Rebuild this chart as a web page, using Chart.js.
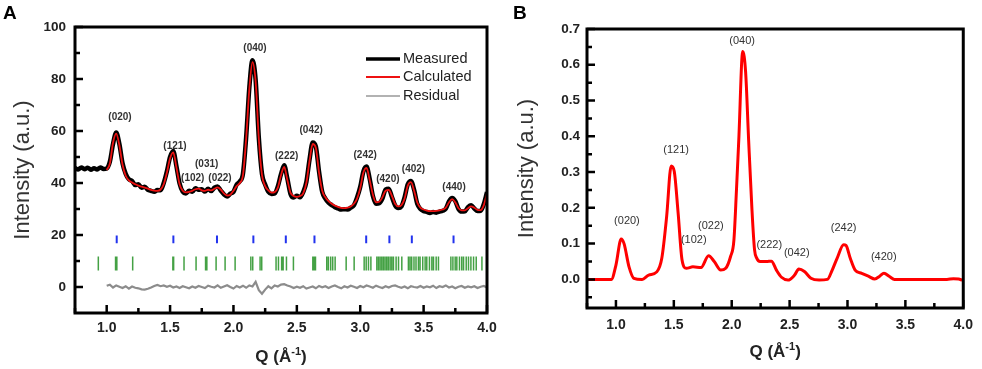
<!DOCTYPE html>
<html>
<head>
<meta charset="utf-8">
<script src="https://cdn.jsdelivr.net/npm/chart.js@4.4.1/dist/chart.umd.min.js"></script>
<style>
  html, body { margin: 0; padding: 0; background: #fff; }
  #wrap { position: relative; width: 982px; height: 369px; overflow: hidden; }
  canvas { position: absolute; top: 0; }
  #chartA { left: 0; }
  #chartB { left: 491px; }
</style>
</head>
<body>
<div id="wrap">
  <canvas id="chartA" width="520" height="369"></canvas>
  <canvas id="chartB" width="491" height="369"></canvas>
</div>
<script>
// ---- Panel A data (Q step 0.025) ----
const measuredStart = 0.75;
const measured = [
  45.8, 45.2, 46.0, 45.3, 45.9, 45.1, 45.7, 45.2, 46.0, 45.4,
  45.6, 48.2, 55.0, 59.4, 55.0, 47.6, 43.5, 41.4, 40.8, 39.2,
  39.5, 38.2, 38.6, 37.4, 37.0, 36.6, 37.3, 37.2, 40.0, 44.5,
  50.0, 52.3, 46.5, 39.8, 36.6, 36.0, 37.0, 36.6, 38.0, 37.4,
  37.6, 36.7, 37.8, 36.9, 38.2, 38.7, 37.1, 35.6, 34.8, 35.9,
  36.6, 39.4, 40.6, 43.6, 57.5, 76.6, 87.2, 79.6, 57.4, 43.5,
  39.4, 36.6, 35.8, 36.0, 38.7, 43.4, 46.8, 41.7, 35.8, 34.4,
  35.1, 34.5, 36.5, 40.4, 49.0, 55.6, 54.0, 44.4, 36.6, 34.0,
  32.4, 31.5, 30.7, 30.2, 29.8, 29.9, 29.8, 30.5, 31.4, 34.4,
  38.5, 44.5, 46.3, 41.5, 35.0, 32.0, 32.2, 34.0, 37.5, 37.8,
  34.6, 31.4, 30.4, 31.0, 34.5, 39.5, 40.8, 37.4, 32.0, 30.0,
  29.2, 28.9, 28.5, 28.8, 28.6, 29.0, 29.3, 30.1, 32.9, 34.2,
  33.0, 30.0, 29.0, 29.1, 30.7, 31.4, 30.2, 29.2, 29.3, 31.9,
  36.5
];
const calcStart = 1.0;
const calculated = [
  45.0, 47.5, 55.5, 59.0, 54.5, 47.0, 42.8, 41.0, 40.2, 39.5,
  39.0, 38.6, 38.2, 37.8, 37.4, 37.1, 37.0, 37.5, 39.5, 44.0,
  49.5, 51.8, 46.0, 39.5, 37.0, 36.4, 36.6, 37.0, 37.6, 37.8,
  37.2, 37.0, 37.4, 37.2, 37.8, 38.3, 37.5, 36.0, 35.2, 35.5,
  37.0, 38.8, 40.0, 43.0, 57.0, 76.0, 86.5, 79.0, 57.0, 43.0,
  38.8, 37.2, 36.3, 36.5, 38.2, 43.0, 46.2, 41.2, 36.3, 35.0,
  34.7, 35.0, 36.0, 40.0, 48.5, 55.0, 53.5, 44.0, 37.0, 34.5,
  33.0, 32.0, 31.3, 30.8, 30.4, 30.3, 30.5, 31.0, 32.0, 34.0,
  38.0, 44.0, 45.8, 41.0, 35.5, 32.6, 32.8, 34.5, 37.0, 37.3,
  35.0, 32.0, 31.0, 31.5, 34.0, 39.0, 40.3, 37.0, 32.5, 30.5,
  29.8, 29.4, 29.2, 29.2, 29.3, 29.5, 29.8, 30.5, 32.5, 33.8,
  32.5, 30.3, 29.5, 29.5, 30.3, 31.0, 30.5, 29.7, 29.6, 31.5,
  36.0
];
const residual = [
  0.5, 0.9, -0.2, 0.6, 0.1, -0.4, 0.3, -0.6, 0.2, -0.3,
  -0.5, -0.9, -1.0, -0.7, -0.2, 0.4, 0.8, 0.3, 0.6, 0.1,
  0.5, -0.2, 0.2, -0.4, 0.3, -0.1, -0.5, 0.2, -0.3, 0.4,
  0.0, -0.4, 0.5, 0.1, -0.2, 0.6, -0.3, 0.2, 0.7, 0.0,
  -0.6, 0.4, -0.2, 0.5, -0.3, 0.6, 0.2, 2.0, -1.2, -2.6,
  -1.0, 0.3, -0.5, 0.6, 0.2, 0.9, 1.1, 0.6, 0.2, -0.4,
  0.1, -0.3, 0.3, -0.6, -0.2, 0.2, -0.5, 0.4, -0.1, 0.3,
  -0.4, 0.2, 0.6, 0.0, -0.5, 0.3, -0.2, 0.5, 0.1, -0.4,
  0.4, -0.1, 0.6, 0.2, -0.3, 0.5, 0.0, -0.4, 0.3, -0.2,
  0.4, 0.6, 0.1, -0.3, 0.2, -0.5, 0.3, 0.0, -0.2, 0.4,
  -0.3, 0.2, -0.1, 0.5, -0.4, 0.3, 0.0, 0.6, -0.2, 0.2,
  -0.5, 0.1, 0.4, -0.3, 0.2, -0.1, 0.3, -0.4, 0.1, 0.4,
  -0.2
];
// reflection markers
const blueTicks = [1.079, 1.526, 1.87, 2.157, 2.413, 2.639, 3.047, 3.23, 3.407, 3.736];
const greenTicks = [0.934, 1.07, 1.08, 1.205, 1.522, 1.528, 1.61, 1.705, 1.78, 1.79, 1.863, 1.934,
  2.013, 2.137, 2.152, 2.21, 2.223, 2.336, 2.355, 2.38, 2.392, 2.418, 2.473, 2.626, 2.636, 2.647,
  2.736, 2.749, 2.767, 2.783, 2.802, 2.889, 2.952, 3.031, 3.047, 3.065, 3.084, 3.131, 3.144, 3.157,
  3.170, 3.183, 3.196, 3.209, 3.222, 3.236, 3.249, 3.262, 3.283, 3.302, 3.328, 3.38, 3.393, 3.406,
  3.424, 3.44, 3.459, 3.472, 3.493, 3.512, 3.525, 3.546, 3.565, 3.578, 3.599, 3.617, 3.715, 3.731,
  3.749, 3.762, 3.783, 3.801, 3.815, 3.836, 3.854, 3.873, 3.894, 3.915, 3.96];
const peakNamesA = ['(020)', '(121)', '(102)', '(031)', '(022)', '(040)', '(222)', '(042)', '(242)', '(420)', '(402)', '(440)'];
const peakQA = [1.105, 1.539, 1.679, 1.789, 1.894, 2.17, 2.42, 2.613, 3.039, 3.218, 3.42, 3.74];
const peakYA = [65.3, 54.3, 41.8, 47.3, 41.8, 91.8, 50.4, 60.1, 50.8, 41.5, 45.2, 38.2];
const yTicksA = [0, 20, 40, 60, 80, 100];

// ---- Panel B data ----
const qB = [0.75, 0.96, 1.0, 1.045, 1.07, 1.113, 1.155, 1.226, 1.283, 1.353, 1.396, 1.438, 1.477,
  1.503, 1.537, 1.571, 1.608, 1.665, 1.735, 1.80, 1.849, 1.905, 1.948, 1.99, 2.019, 2.041, 2.061,
  2.095, 2.12, 2.146, 2.174, 2.197, 2.215, 2.245, 2.30, 2.343, 2.386, 2.43, 2.486, 2.543, 2.58,
  2.628, 2.684, 2.755, 2.826, 2.868, 2.91, 2.967, 2.987, 3.024, 3.066, 3.123, 3.18, 3.236, 3.278,
  3.315, 3.363, 3.406, 3.859, 3.915, 3.96, 3.99];
const intB = [0, 0, 0.04, 0.113, 0.10, 0.035, 0.003, 0, 0.012, 0.021, 0.059, 0.176, 0.317,
  0.303, 0.186, 0.054, 0.031, 0.035, 0.033, 0.066, 0.05, 0.026, 0.031, 0.064, 0.11, 0.25, 0.39,
  0.637, 0.58, 0.39, 0.20, 0.083, 0.06, 0.05, 0.05, 0.051, 0.026, 0.006, -0.002, 0.012, 0.029,
  0.022, 0.003, -0.002, 0, 0.026, 0.059, 0.097, 0.095, 0.059, 0.026, 0.017, 0.009, 0.001, 0.009,
  0.017, 0.008, 0, 0, 0.002, 0.001, -0.002];
const peakNamesB = ['(020)', '(121)', '(102)', '(022)', '(040)', '(222)', '(042)', '(242)', '(420)'];
const peakQB = [1.095, 1.52, 1.672, 1.82, 2.09, 2.324, 2.562, 2.967, 3.313];
const peakYB = [0.162, 0.362, 0.109, 0.149, 0.667, 0.095, 0.075, 0.144, 0.062];
const yTicksB = [0, 0.1, 0.2, 0.3, 0.4, 0.5, 0.6, 0.7];

const xTicks = [1.0, 1.5, 2.0, 2.5, 3.0, 3.5, 4.0];
const xMinor = [0.75, 1.25, 1.75, 2.25, 2.75, 3.25, 3.75];

const FONT = '"Liberation Sans", Arial, sans-serif';

function series(start, vals) {
  return vals.map((v, i) => ({ x: start + i * 0.025, y: v }));
}
function tickSegments(qs, lo, hi) {
  const pts = [];
  qs.forEach(q => { pts.push({ x: q, y: lo }, { x: q, y: hi }, { x: q, y: null }); });
  return pts;
}

// frame, inward ticks, axis titles, peak labels
function decorPlugin(o) {
  return {
    id: 'decor' + o.letter,
    afterDatasetsDraw(chart) {
      const { ctx, chartArea: a, scales: { x, y } } = chart;
      ctx.save();
      ctx.strokeStyle = '#000';
      ctx.lineWidth = 2.5;
      ctx.beginPath();
      xTicks.forEach(v => { const p = x.getPixelForValue(v); ctx.moveTo(p, a.bottom); ctx.lineTo(p, a.bottom - 8); });
      xMinor.forEach(v => { const p = x.getPixelForValue(v); ctx.moveTo(p, a.bottom); ctx.lineTo(p, a.bottom - 5); });
      o.yMajor.forEach(v => { const p = y.getPixelForValue(v); ctx.moveTo(a.left, p); ctx.lineTo(a.left + 8, p); });
      o.yMinor.forEach(v => { const p = y.getPixelForValue(v); ctx.moveTo(a.left, p); ctx.lineTo(a.left + 5, p); });
      ctx.stroke();
      ctx.lineWidth = 3;
      ctx.strokeRect(a.left, a.top, a.right - a.left, a.bottom - a.top);

      // peak labels
      ctx.fillStyle = '#333';
      ctx.font = o.peakFont;
      ctx.textAlign = 'center';
      ctx.textBaseline = 'middle';
      o.names.forEach((n, i) => ctx.fillText(n, x.getPixelForValue(o.qs[i]), y.getPixelForValue(o.ys[i])));

      // y title
      ctx.save();
      ctx.translate(o.yTitleX, (a.top + a.bottom) / 2);
      ctx.rotate(-Math.PI / 2);
      ctx.fillStyle = '#333';
      ctx.font = '22px ' + FONT;
      ctx.textBaseline = 'alphabetic';
      ctx.fillText('Intensity (a.u.)', 0, 0);
      ctx.restore();

      // x title with superscript
      ctx.fillStyle = '#222';
      ctx.textBaseline = 'alphabetic';
      ctx.textAlign = 'left';
      const big = 'bold 17px ' + FONT, small = 'bold 11px ' + FONT;
      ctx.font = big; const w1 = ctx.measureText('Q (Å').width, w3 = ctx.measureText(')').width;
      ctx.font = small; const w2 = ctx.measureText('-1').width;
      let tx = (a.left + a.right) / 2 - (w1 + w2 + w3) / 2;
      ctx.font = big; ctx.fillText('Q (Å', tx, o.xTitleY);
      ctx.font = small; ctx.fillText('-1', tx + w1, o.xTitleY - 7);
      ctx.font = big; ctx.fillText(')', tx + w1 + w2, o.xTitleY);

      // panel letter
      ctx.font = 'bold 19px ' + FONT;
      ctx.fillStyle = '#000';
      ctx.fillText(o.letter, o.letterX, 19);

      if (o.legend) o.legend(ctx);
      ctx.restore();
    }
  };
}

function baseOptions(ymin, ymax, yTicks, fmt, pad, yw, xh, ypad, xpad) {
  return {
    responsive: false,
    animation: false,
    layout: { padding: pad },
    plugins: { legend: { display: false }, tooltip: { enabled: false } },
    elements: { point: { radius: 0 } },
    scales: {
      x: {
        type: 'linear', min: 0.75, max: 4.0,
        grid: { display: false, drawTicks: false }, border: { display: false },
        afterBuildTicks: s => { s.ticks = xTicks.map(v => ({ value: v })); },
        afterFit: s => { s.height = xh; },
        ticks: { padding: xpad, color: '#222', maxRotation: 0, autoSkip: false,
          font: { family: FONT, size: 14, weight: 'bold' }, callback: v => v.toFixed(1) }
      },
      y: {
        min: ymin, max: ymax,
        grid: { display: false, drawTicks: false }, border: { display: false },
        afterBuildTicks: s => { s.ticks = yTicks.map(v => ({ value: v })); },
        afterFit: s => { s.width = yw; },
        ticks: { padding: ypad, color: '#222', autoSkip: false,
          font: { family: FONT, size: 13.5, weight: 'bold' }, callback: fmt }
      }
    }
  };
}

// ---- Chart A ----
new Chart(document.getElementById('chartA'), {
  type: 'line',
  data: {
    datasets: [
      { label: 'Calculated', data: series(calcStart, calculated), borderColor: '#ee1111', borderWidth: 1.8, cubicInterpolationMode: 'monotone' },
      { label: 'Measured', data: series(measuredStart, measured), borderColor: '#000', borderWidth: 4.5, cubicInterpolationMode: 'monotone' },
      { label: 'Residual', data: series(calcStart, residual), borderColor: '#8c8c8c', borderWidth: 2.2 },
      { label: 'blue', data: tickSegments(blueTicks, 16.8, 19.8), borderColor: '#2233ee', borderWidth: 2 },
      { label: 'green', data: tickSegments(greenTicks, 6.3, 11.7), borderColor: 'rgba(35,145,35,0.85)', borderWidth: 1.5 }
    ]
  },
  options: baseOptions(-10, 100, yTicksA, v => v, { top: 27, right: 33, left: 0, bottom: 0 }, 75, 56, 9, 7),
  plugins: [decorPlugin({
    letter: 'A', letterX: 3, yTitleX: 29, xTitleY: 362,
    yMajor: yTicksA, yMinor: [10, 30, 50, 70, 90],
    names: peakNamesA, qs: peakQA, ys: peakYA, peakFont: 'bold 10px ' + FONT,
    legend: ctx => {
      const rows = [['Measured', '#000', 3.5, 59], ['Calculated', '#ee1111', 1.8, 77], ['Residual', '#999', 1.5, 96]];
      rows.forEach(r => {
        ctx.strokeStyle = r[1]; ctx.lineWidth = r[2];
        ctx.beginPath(); ctx.moveTo(366, r[3]); ctx.lineTo(400, r[3]); ctx.stroke();
        ctx.fillStyle = '#222'; ctx.font = '14.5px ' + FONT;
        ctx.textAlign = 'left'; ctx.textBaseline = 'middle';
        ctx.fillText(r[0], 403, r[3]);
      });
    }
  })]
});

// ---- Chart B ----
new Chart(document.getElementById('chartB'), {
  type: 'line',
  data: {
    datasets: [
      { label: 'B', data: qB.map((q, i) => ({ x: q, y: intB[i] })), borderColor: '#ff0000', borderWidth: 3, cubicInterpolationMode: 'monotone' }
    ]
  },
  options: baseOptions(-0.08, 0.7, yTicksB, v => v.toFixed(1), { top: 29, right: 12, left: 0, bottom: 0 }, 96, 61, 7, 9),
  plugins: [decorPlugin({
    letter: 'B', letterX: 22, yTitleX: 42, xTitleY: 357,
    yMajor: yTicksB, yMinor: [-0.05, 0.05, 0.15, 0.25, 0.35, 0.45, 0.55, 0.65],
    names: peakNamesB, qs: peakQB, ys: peakYB, peakFont: '11px ' + FONT
  })]
});
</script>
</body>
</html>
